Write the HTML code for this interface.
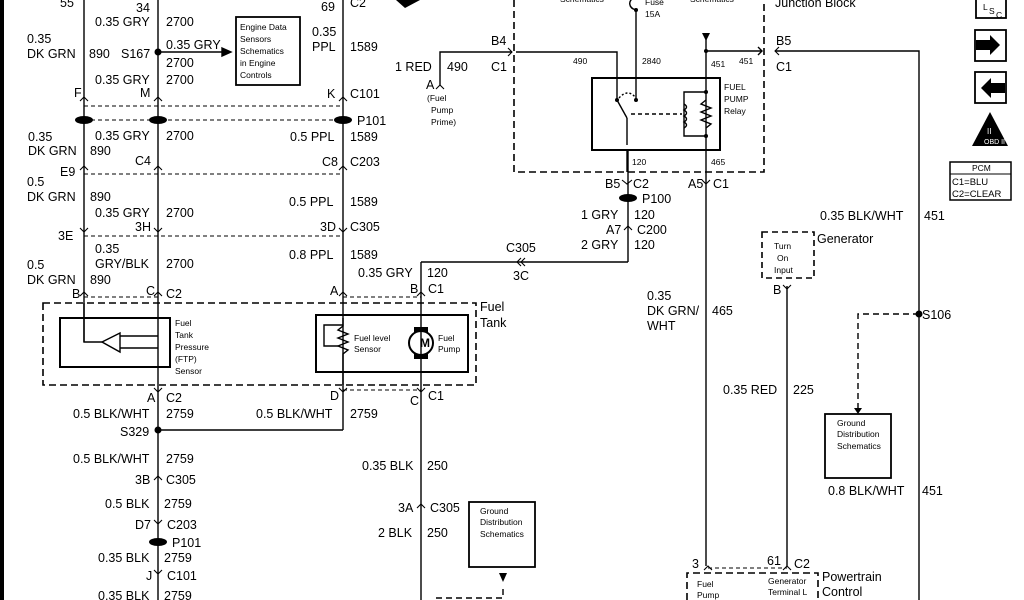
<!DOCTYPE html>
<html><head><meta charset="utf-8"><style>
html,body{margin:0;padding:0;background:#fff;}
svg{display:block;}
text{font-family:"Liberation Sans",Arial,sans-serif;fill:#000;}
.l{font-size:12.5px;}
.s{font-size:8.5px;}
.m{font-size:9.5px;}
</style></head><body>
<svg width="1024" height="600" viewBox="0 0 1024 600" xmlns="http://www.w3.org/2000/svg">
<g stroke="#000" fill="none" stroke-width="1.4">
<!-- left border -->
<line x1="2" y1="0" x2="2" y2="600" stroke-width="4"/>
<!-- main verticals -->
<line x1="84" y1="0" x2="84" y2="342"/>
<line x1="158" y1="0" x2="158" y2="600"/>
<line x1="343" y1="0" x2="343" y2="430"/>
<line x1="421" y1="262" x2="421" y2="600"/>
<line x1="158" y1="430" x2="343" y2="430"/>
<line x1="421" y1="262" x2="628" y2="262"/>
<line x1="628" y1="150" x2="628" y2="262"/>
<line x1="158" y1="52" x2="222" y2="52"/>
<polygon points="222,48 231,52 222,56" fill="#000"/>
<!-- 1 RED 490 -->
<polyline points="440,85 440,52 512,52"/>
<polyline points="516,52 617,52 617,78"/>
<line x1="636" y1="10" x2="636" y2="78"/>
<line x1="706" y1="38" x2="706" y2="150"/>
<line x1="706" y1="51" x2="762" y2="51"/>
<polyline points="758,47 762,51 758,55"/>
<polyline points="775,51 919,51 919,600"/>
<line x1="706" y1="150" x2="706" y2="566"/>
<line x1="787" y1="286" x2="787" y2="566"/>
<!-- Junction block dashed -->
<polyline points="514,0 514,172 764,172 764,0" stroke-dasharray="7,4" stroke-width="1.6"/>
<!-- relay box -->
<rect x="592" y="78" width="128" height="72" stroke-width="2"/>
<line x1="617" y1="78" x2="617" y2="100"/>
<line x1="636" y1="78" x2="636" y2="100"/>
<line x1="617" y1="100" x2="627" y2="118"/>
<line x1="627" y1="118" x2="627" y2="145"/>
<path d="M619,98 Q628,88 636,98" stroke-dasharray="2,2"/>
<line x1="631" y1="114" x2="682" y2="114" stroke-dasharray="4,3"/>
<polyline points="706,92 684,92 684,136 706,136"/>
<path d="M684,104 q5,3 0,6 q5,3 0,6 q5,3 0,6 q5,3 0,6"/>
<polyline points="706,100 701,104 711,108 701,112 711,116 701,120 711,124 706,128"/>
<line x1="627" y1="150" x2="627" y2="172"/>
<!-- fuse -->
<path d="M636,10 C628,8 628,0 634,-2"/>
<!-- dashed horizontals -->
<g stroke-dasharray="4,3" stroke-width="1">
<line x1="84" y1="106" x2="343" y2="106"/>
<line x1="84" y1="120" x2="343" y2="120"/>
<line x1="84" y1="174" x2="343" y2="174"/>
<line x1="84" y1="236" x2="343" y2="236"/>
<line x1="84" y1="297" x2="158" y2="297"/>
<line x1="343" y1="297" x2="421" y2="297"/>
<line x1="343" y1="390" x2="421" y2="390"/>
<line x1="708" y1="568" x2="787" y2="568"/>
</g>
<!-- Fuel tank dashed -->
<rect x="43" y="303" width="433" height="82" stroke-dasharray="7,4" stroke-width="1.6"/>
<rect x="60" y="318" width="110" height="49" stroke-width="2"/>
<polyline points="84,303 84,342 102,342"/>
<polygon points="102,342 120,333 120,352"/>
<polyline points="120,336 158,336"/>
<polyline points="120,348 158,348"/>
<rect x="316" y="315" width="152" height="57" stroke-width="2"/>
<polyline points="343,318 343,326 338,330 348,334 338,338 348,342 338,346 348,350 343,354 343,385"/>
<polyline points="343,325 324,325 324,346 338,346"/>
<circle cx="421" cy="343" r="12" stroke-width="2"/>
<!-- generator dashed -->
<rect x="762" y="232" width="52" height="46" stroke-dasharray="6,4" stroke-width="1.6"/>
<!-- S106 dashed -->
<polyline points="919,314 858,314 858,408" stroke-dasharray="6,4"/>
<rect x="825" y="414" width="66" height="64" stroke-width="1.8"/>
<rect x="469" y="502" width="66" height="65" stroke-width="1.8"/>
<polyline points="436,598 503,598 503,588" stroke-dasharray="6,4"/>
<polyline points="687,600 687,573 818,573 818,600" stroke-dasharray="7,4" stroke-width="1.6"/>
<!-- engine box -->
<rect x="236" y="17" width="64" height="68" stroke-width="1.8"/>
<!-- right icons -->
<rect x="976" y="-2" width="30" height="20" stroke-width="1.8"/>
<rect x="975" y="30" width="31" height="31" stroke-width="1.8"/>
<rect x="975" y="72" width="31" height="31" stroke-width="1.8"/>
<rect x="950" y="162" width="61" height="38" stroke-width="1.5"/>
<line x1="950" y1="174" x2="1011" y2="174" stroke-width="1"/>
<!-- connector chevrons -->
<g stroke-width="1.1">
<polyline points="80,101 84,97 88,101"/><polyline points="154,101 158,97 162,101"/><polyline points="339,101 343,97 347,101"/>
<polyline points="80,170 84,166 88,170"/><polyline points="154,170 158,166 162,170"/><polyline points="339,170 343,166 347,170"/>
<polyline points="80,228 84,232 88,228"/><polyline points="154,228 158,232 162,228"/><polyline points="339,228 343,232 347,228"/>
<polyline points="80,296 84,292 88,296"/><polyline points="154,296 158,292 162,296"/><polyline points="339,296 343,292 347,296"/><polyline points="417,296 421,292 425,296"/>
<polyline points="154,388 158,392 162,388"/><polyline points="339,388 343,392 347,388"/><polyline points="417,388 421,392 425,388"/>
<polyline points="154,480 158,476 162,480"/><polyline points="154,520 158,524 162,520"/><polyline points="154,570 158,574 162,570"/>
<polyline points="417,508 421,504 425,508"/><polyline points="624,230 628,226 632,230"/>
<polyline points="436,89 440,85 444,89"/><polyline points="508,48 512,52 508,56"/>
<polyline points="622,180 627,184 632,180"/><polyline points="702,180 706,184 710,180"/>
<polyline points="783,285 787,289 791,285"/><polyline points="704,570 708,566 712,570"/><polyline points="783,570 787,566 791,570"/>
<polyline points="525,258 521,262 525,266"/><polyline points="521,258 517,262 521,266"/>
<polyline points="779,47 775,51 779,55"/>
</g>
</g>
<!-- filled bits -->
<g fill="#000">
<circle cx="158" cy="52" r="3.5"/><circle cx="158" cy="430" r="3.5"/><circle cx="919" cy="314" r="3.5"/>
<circle cx="617" cy="100" r="2"/><circle cx="636" cy="100" r="2"/><circle cx="706" cy="92" r="2"/><circle cx="706" cy="136" r="2"/><circle cx="706" cy="51" r="2"/><circle cx="636" cy="10" r="2"/>
<ellipse cx="84" cy="120" rx="9" ry="4"/><ellipse cx="158" cy="120" rx="9" ry="4"/><ellipse cx="343" cy="120" rx="9" ry="4"/>
<ellipse cx="628" cy="198" rx="9" ry="4"/><ellipse cx="158" cy="542" rx="9" ry="4"/>
<rect x="414" y="327" width="14" height="5"/><rect x="414" y="354" width="14" height="5"/>
<polygon points="702,33 710,33 706,41"/><polygon points="499,573 507,573 503,582"/><polygon points="854,408 862,408 858,414"/>
<polygon points="976,40 990,40 990,35 1000,45 990,55 990,50 976,50" />
<polygon points="1005,83 991,83 991,78 981,88 991,98 991,93 1005,93"/>
<polygon points="990,112 1008,146 972,146"/>
<path d="M396,0 L420,0 L405,8 Z"/>
</g>
<text x="984" y="144" font-size="7" style="fill:#fff">OBD II</text>
<text x="987" y="134" font-size="8" style="fill:#fff">II</text>
<g class="l">
<text x="60" y="7">55</text><text x="136" y="12">34</text>
<text x="95" y="26">0.35 GRY</text><text x="166" y="26">2700</text>
<text x="27" y="43">0.35</text><text x="27" y="58">DK GRN</text><text x="89" y="58">890</text><text x="121" y="58">S167</text>
<text x="166" y="49">0.35 GRY</text><text x="166" y="67">2700</text>
<text x="95" y="84">0.35 GRY</text><text x="166" y="84">2700</text>
<text x="74" y="97">F</text><text x="140" y="97">M</text><text x="327" y="98">K</text><text x="350" y="98">C101</text>
<text x="321" y="11">69</text><text x="350" y="7">C2</text>
<text x="312" y="36">0.35</text><text x="312" y="51">PPL</text><text x="350" y="51">1589</text>
<text x="357" y="125">P101</text>
<text x="28" y="141">0.35</text><text x="28" y="155">DK GRN</text><text x="90" y="155">890</text>
<text x="95" y="140">0.35 GRY</text><text x="166" y="140">2700</text>
<text x="290" y="141">0.5 PPL</text><text x="350" y="141">1589</text>
<text x="135" y="165">C4</text><text x="322" y="166">C8</text><text x="350" y="166">C203</text>
<text x="60" y="176">E9</text>
<text x="27" y="186">0.5</text><text x="27" y="201">DK GRN</text><text x="90" y="201">890</text>
<text x="95" y="217">0.35 GRY</text><text x="166" y="217">2700</text>
<text x="289" y="206">0.5 PPL</text><text x="350" y="206">1589</text>
<text x="135" y="231">3H</text><text x="320" y="231">3D</text><text x="350" y="231">C305</text>
<text x="58" y="240">3E</text>
<text x="95" y="253">0.35</text><text x="95" y="268">GRY/BLK</text><text x="166" y="268">2700</text>
<text x="289" y="259">0.8 PPL</text><text x="350" y="259">1589</text>
<text x="27" y="269">0.5</text><text x="27" y="284">DK GRN</text><text x="90" y="284">890</text>
<text x="72" y="298">B</text><text x="146" y="295">C</text><text x="166" y="298">C2</text><text x="330" y="295">A</text>
<text x="358" y="277">0.35 GRY</text><text x="427" y="277">120</text><text x="410" y="293">B</text><text x="428" y="293">C1</text>
<text x="395" y="71">1 RED</text><text x="447" y="71">490</text><text x="426" y="89">A</text>
<text x="491" y="45">B4</text><text x="491" y="71">C1</text>
<text x="480" y="311">Fuel</text><text x="480" y="327">Tank</text>
<text x="147" y="402">A</text><text x="166" y="402">C2</text><text x="330" y="400">D</text><text x="410" y="405">C</text><text x="428" y="400">C1</text>
<text x="73" y="418">0.5 BLK/WHT</text><text x="166" y="418">2759</text>
<text x="256" y="418">0.5 BLK/WHT</text><text x="350" y="418">2759</text>
<text x="120" y="436">S329</text>
<text x="73" y="463">0.5 BLK/WHT</text><text x="166" y="463">2759</text>
<text x="135" y="484">3B</text><text x="166" y="484">C305</text>
<text x="105" y="508">0.5 BLK</text><text x="164" y="508">2759</text>
<text x="135" y="529">D7</text><text x="167" y="529">C203</text>
<text x="172" y="547">P101</text>
<text x="98" y="562">0.35 BLK</text><text x="164" y="562">2759</text>
<text x="146" y="580">J</text><text x="167" y="580">C101</text>
<text x="98" y="600">0.35 BLK</text><text x="164" y="600">2759</text>
<text x="362" y="470">0.35 BLK</text><text x="427" y="470">250</text>
<text x="398" y="512">3A</text><text x="430" y="512">C305</text>
<text x="378" y="537">2 BLK</text><text x="427" y="537">250</text>
<text x="605" y="188">B5</text><text x="633" y="188">C2</text><text x="642" y="203">P100</text>
<text x="581" y="219">1 GRY</text><text x="634" y="219">120</text>
<text x="606" y="234">A7</text><text x="637" y="234">C200</text>
<text x="581" y="249">2 GRY</text><text x="634" y="249">120</text>
<text x="506" y="252">C305</text><text x="513" y="280">3C</text>
<text x="688" y="188">A5</text><text x="713" y="188">C1</text>
<text x="776" y="45">B5</text><text x="776" y="71">C1</text>
<text x="775" y="7">Junction  Block</text>
<text x="820" y="220">0.35 BLK/WHT</text><text x="924" y="220">451</text>
<text x="817" y="243">Generator</text>
<text x="773" y="294">B</text>
<text x="647" y="300">0.35</text><text x="647" y="315">DK GRN/</text><text x="712" y="315">465</text><text x="647" y="330">WHT</text>
<text x="922" y="319">S106</text>
<text x="723" y="394">0.35 RED</text><text x="793" y="394">225</text>
<text x="828" y="495">0.8 BLK/WHT</text><text x="922" y="495">451</text>
<text x="692" y="568">3</text><text x="767" y="565">61</text><text x="794" y="568">C2</text>
<text x="822" y="581">Powertrain</text><text x="822" y="596">Control</text>
</g>
<g class="s">
<text x="240" y="30">Engine Data</text><text x="240" y="42">Sensors</text><text x="240" y="54">Schematics</text><text x="240" y="66">in Engine</text><text x="240" y="78">Controls</text>
<text x="427" y="101">(Fuel</text><text x="431" y="113">Pump</text><text x="431" y="125">Prime)</text>
<text x="560" y="2">Schematics</text><text x="645" y="5">Fuse</text><text x="645" y="17">15A</text><text x="690" y="2">Schematics</text>
<text x="573" y="64">490</text><text x="642" y="64">2840</text><text x="711" y="67">451</text><text x="739" y="64">451</text>
<text x="724" y="90">FUEL</text><text x="724" y="102">PUMP</text><text x="724" y="114">Relay</text>
<text x="632" y="165">120</text><text x="711" y="165">465</text>
<text x="175" y="326">Fuel</text><text x="175" y="338">Tank</text><text x="175" y="350">Pressure</text><text x="175" y="362">(FTP)</text><text x="175" y="374">Sensor</text>
<text x="354" y="341">Fuel level</text><text x="354" y="352">Sensor</text>
<text x="438" y="341">Fuel</text><text x="438" y="352">Pump</text>
<text x="774" y="249">Turn</text><text x="777" y="261">On</text><text x="774" y="273">Input</text>
<text x="837" y="426">Ground</text><text x="837" y="437">Distribution</text><text x="837" y="449">Schematics</text>
<text x="480" y="514">Ground</text><text x="480" y="525">Distribution</text><text x="480" y="537">Schematics</text>
<text x="697" y="587">Fuel</text><text x="697" y="598">Pump</text>
<text x="768" y="584">Generator</text><text x="768" y="595">Terminal L</text>
<text x="972" y="171">PCM</text><text x="952" y="185" class="m">C1=BLU</text><text x="952" y="197" class="m">C2=CLEAR</text>
<text x="420" y="347" font-size="12" font-weight="bold">M</text>
<text x="983" y="10">L</text><text x="989" y="14">S</text><text x="996" y="18">C</text>
</g>
</svg>
</body></html>
